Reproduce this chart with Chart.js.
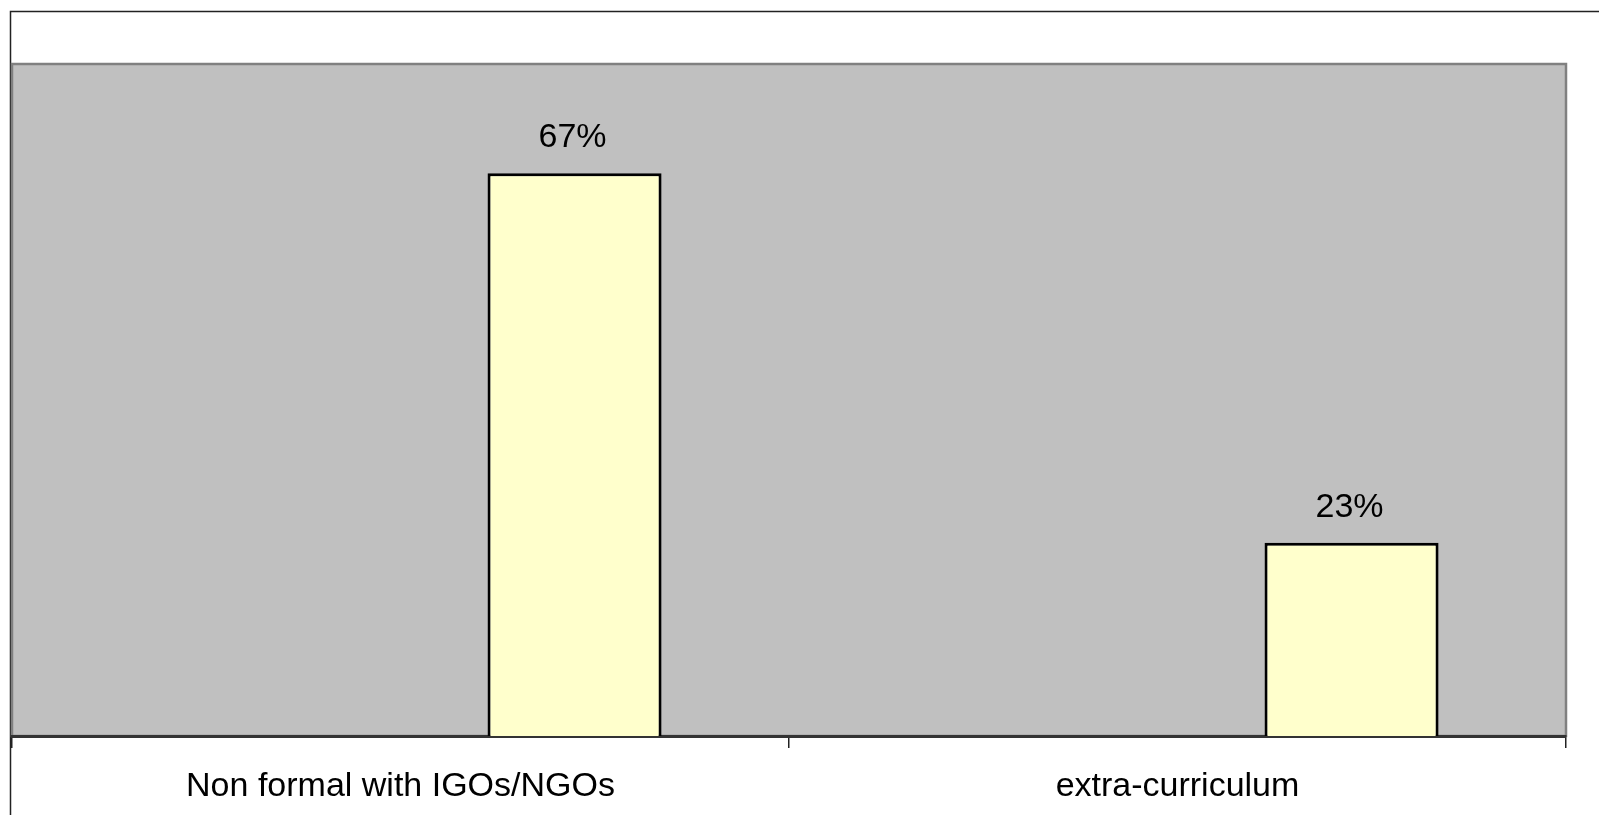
<!DOCTYPE html>
<html>
<head>
<meta charset="utf-8">
<script src="https://cdn.jsdelivr.net/npm/chart.js@4/dist/chart.umd.min.js"></script>
<style>
  html, body { margin: 0; padding: 0; background: #fff; }
  canvas { display: block; }
</style>
</head>
<body>
<canvas id="chart" width="1599" height="815"></canvas>
<script>
'use strict';
// categories and values (percent)
let categories = ['Non formal with IGOs/NGOs', 'extra-curriculum'];
let emptySeriesA = [null, null];
let emptySeriesB = [null, null];
let shares = [67, 23];
let yMin = 0;
let yMax = 80;

// grey plot area + outer frame
const backdrop = {
  id: 'backdrop',
  beforeDraw(chart) {
    const ctx = chart.ctx;
    const a = chart.chartArea;
    ctx.save();
    ctx.fillStyle = '#ffffff';
    ctx.fillRect(0, 0, chart.width, chart.height);
    ctx.strokeStyle = '#222';
    ctx.lineWidth = 1.5;
    ctx.beginPath();
    ctx.moveTo(10.5, chart.height);
    ctx.lineTo(10.5, 11.5);
    ctx.lineTo(chart.width, 11.5);
    ctx.stroke();
    ctx.fillStyle = '#c0c0c0';
    ctx.fillRect(a.left, a.top, a.right - a.left, a.bottom - a.top);
    ctx.strokeStyle = '#808080';
    ctx.lineWidth = 2.5;
    ctx.strokeRect(a.left, a.top, a.right - a.left, a.bottom - a.top);
    ctx.restore();
  }
};

// percent labels over the bars
const valueLabels = {
  id: 'valueLabels',
  afterDatasetsDraw(chart) {
    const ctx = chart.ctx;
    ctx.save();
    ctx.font = '34px "Liberation Sans", Arial, sans-serif';
    ctx.fillStyle = '#000';
    ctx.textAlign = 'center';
    ctx.textBaseline = 'alphabetic';
    chart.data.datasets.forEach((ds, i) => {
      const meta = chart.getDatasetMeta(i);
      meta.data.forEach((bar, j) => {
        const v = ds.data[j];
        if (v === null || v === undefined) return;
        ctx.fillText(v + '%', bar.x - 2, bar.y - 26);
      });
    });
    ctx.restore();
  }
};

const barStyle = {
  backgroundColor: '#ffffcc',
  borderColor: '#000000',
  borderWidth: 3,
  barPercentage: 1.0,
  categoryPercentage: 0.672
};

new Chart(document.getElementById('chart'), {
  type: 'bar',
  data: {
    labels: categories,
    datasets: [
      Object.assign({ label: 'a', data: emptySeriesA }, barStyle),
      Object.assign({ label: 'b', data: emptySeriesB }, barStyle),
      Object.assign({ label: 'share', data: shares }, barStyle)
    ]
  },
  options: {
    responsive: false,
    animation: false,
    layout: { padding: { left: 12, right: 33, top: 64, bottom: 0 } },
    plugins: {
      legend: { display: false },
      tooltip: { enabled: false }
    },
    scales: {
      x: {
        afterFit(scale) { scale.height = 79; },
        grid: {
          offset: true,
          drawOnChartArea: false,
          drawTicks: true,
          tickLength: 12,
          color: '#222',
          lineWidth: 1.5
        },
        border: { display: true, color: '#333', width: 3 },
        ticks: {
          color: '#000',
          padding: 18,
          font: { family: '"Liberation Sans", Arial, sans-serif', size: 34 }
        }
      },
      y: {
        display: false,
        min: yMin,
        max: yMax
      }
    }
  },
  plugins: [backdrop, valueLabels]
});
</script>
</body>
</html>
